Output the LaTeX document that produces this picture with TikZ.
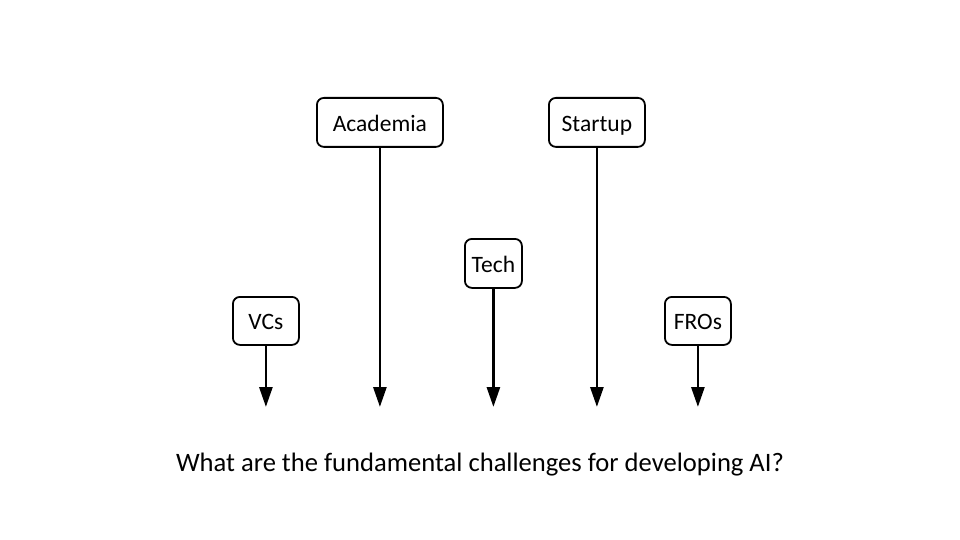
\documentclass[tikz,border=0pt]{standalone}
\usepackage{fontspec}
\setmainfont{Carlito}
\usetikzlibrary{arrows.meta}
\begin{document}
\begin{tikzpicture}[x=1pt,y=-1pt,
  actor/.style={draw, line width=1.8pt, rounded corners=7pt, fill=white, inner sep=0pt, font=\fontsize{23.5}{28}\selectfont, text height=18pt, text depth=0pt, anchor=north west},
  flow/.style={line width=2.8pt, -{Triangle[width=13pt,length=20pt]}}]
\useasboundingbox (0,0) rectangle (960,540);
\node[actor, minimum width=66pt, minimum height=48pt] (vcs) at (232,296) {VCs};
\node[actor, minimum width=126pt, minimum height=49pt] (acad) at (316,97) {Academia};
\node[actor, minimum width=57pt, minimum height=49pt] (tech) at (464,238) {Tech};
\node[actor, minimum width=96pt, minimum height=49pt] (start) at (548,97) {Startup};
\node[actor, minimum width=66pt, minimum height=48pt] (fros) at (664,296) {FROs};
\coordinate (e1) at (264,407);
\coordinate (e2) at (378,407);
\coordinate (e3) at (492,407);
\coordinate (e4) at (596,407);
\coordinate (e5) at (697,407);
\draw[flow] (vcs.south) -- (vcs.south |- e1);
\draw[flow] (acad.south) -- (acad.south |- e2);
\draw[flow] (tech.south) -- (tech.south |- e3);
\draw[flow] (start.south) -- (start.south |- e4);
\draw[flow] (fros.south) -- (fros.south |- e5);
\node[font=\fontsize{26.6}{32}\selectfont] (q) at (480,465) {What are the fundamental challenges for developing AI?};
\end{tikzpicture}
\end{document}
